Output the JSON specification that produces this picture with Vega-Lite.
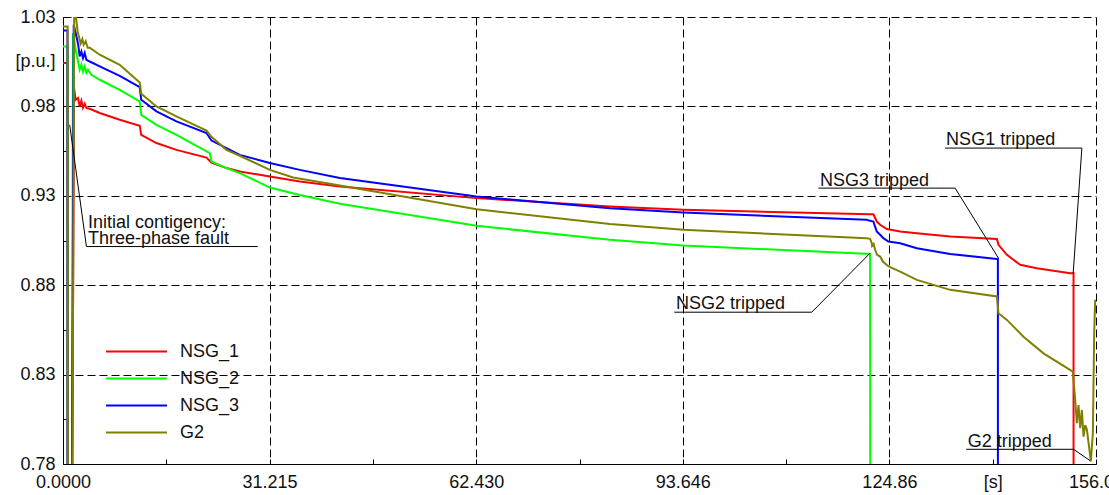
{
  "$schema": "https://vega.github.io/schema/vega-lite/v6.json",
  "width": 1033,
  "height": 447,
  "autosize": {"type": "none"},
  "padding": {"left": 63, "top": 17, "right": 13, "bottom": 31},
  "background": "white",
  "config": {
    "view": {"stroke": null},
    "font": "Liberation Sans",
    "axis": {
      "labelFont": "Liberation Sans",
      "labelFontSize": 18,
      "labelColor": "#111",
      "domainColor": "#000",
      "domainWidth": 1,
      "tickColor": "#000",
      "gridColor": "#000",
      "gridDash": [8, 4],
      "gridWidth": 1,
      "title": null
    }
  },
  "datasets": {
    "curves": [
      {"s":"NSG_1","t":0,"v":1.0043},{"s":"NSG_1","t":0.68,"v":1.0043},{"s":"NSG_1","t":0.72,"v":0.5},{"s":"NSG_1","t":1.08,"v":0.5},{"s":"NSG_1","t":1.66,"v":0.9903},{"s":"NSG_1","t":1.92,"v":0.9837},{"s":"NSG_1","t":2.27,"v":0.9847},{"s":"NSG_1","t":2.52,"v":0.98},{"s":"NSG_1","t":2.78,"v":0.9832},{"s":"NSG_1","t":3.02,"v":0.9792},{"s":"NSG_1","t":3.28,"v":0.9815},{"s":"NSG_1","t":3.53,"v":0.9791},{"s":"NSG_1","t":4.04,"v":0.9787},{"s":"NSG_1","t":5.55,"v":0.9763},{"s":"NSG_1","t":8.57,"v":0.9725},{"s":"NSG_1","t":11.59,"v":0.9692},{"s":"NSG_1","t":11.82,"v":0.9641},{"s":"NSG_1","t":14.12,"v":0.9595},{"s":"NSG_1","t":17.14,"v":0.9557},{"s":"NSG_1","t":21.68,"v":0.9514},{"s":"NSG_1","t":22.43,"v":0.9486},{"s":"NSG_1","t":24.7,"v":0.9455},{"s":"NSG_1","t":26.71,"v":0.9436},{"s":"NSG_1","t":31.25,"v":0.9408},{"s":"NSG_1","t":35.78,"v":0.938},{"s":"NSG_1","t":41.83,"v":0.9352},{"s":"NSG_1","t":62.49,"v":0.9287},{"s":"NSG_1","t":82.64,"v":0.924},{"s":"NSG_1","t":93.72,"v":0.9222},{"s":"NSG_1","t":121.94,"v":0.9197},{"s":"NSG_1","t":122.44,"v":0.9197},{"s":"NSG_1","t":122.96,"v":0.9156},{"s":"NSG_1","t":123.46,"v":0.9138},{"s":"NSG_1","t":124.47,"v":0.9114},{"s":"NSG_1","t":126.48,"v":0.91},{"s":"NSG_1","t":129.0,"v":0.9091},{"s":"NSG_1","t":134.04,"v":0.9072},{"s":"NSG_1","t":141.1,"v":0.9058},{"s":"NSG_1","t":141.34,"v":0.9026},{"s":"NSG_1","t":142.61,"v":0.897},{"s":"NSG_1","t":144.62,"v":0.8914},{"s":"NSG_1","t":147.14,"v":0.8895},{"s":"NSG_1","t":152.18,"v":0.8867},{"s":"NSG_1","t":152.68,"v":0.8867},{"s":"NSG_1","t":152.7,"v":0.5},{"s":"NSG_1","t":156.07,"v":0.5},
      {"s":"NSG_2","t":0,"v":1.0135},{"s":"NSG_2","t":0.68,"v":1.0135},{"s":"NSG_2","t":0.72,"v":0.5},{"s":"NSG_2","t":1.2,"v":0.5},{"s":"NSG_2","t":1.51,"v":1.021},{"s":"NSG_2","t":1.92,"v":1.0117},{"s":"NSG_2","t":2.52,"v":1.0005},{"s":"NSG_2","t":2.78,"v":1.0033},{"s":"NSG_2","t":3.02,"v":0.9994},{"s":"NSG_2","t":3.28,"v":1.0024},{"s":"NSG_2","t":3.53,"v":0.9988},{"s":"NSG_2","t":3.78,"v":1.0005},{"s":"NSG_2","t":4.29,"v":0.9977},{"s":"NSG_2","t":5.55,"v":0.9949},{"s":"NSG_2","t":8.57,"v":0.9893},{"s":"NSG_2","t":11.59,"v":0.9828},{"s":"NSG_2","t":11.82,"v":0.9753},{"s":"NSG_2","t":14.12,"v":0.9697},{"s":"NSG_2","t":17.14,"v":0.9641},{"s":"NSG_2","t":22.18,"v":0.9539},{"s":"NSG_2","t":22.43,"v":0.9492},{"s":"NSG_2","t":24.7,"v":0.9455},{"s":"NSG_2","t":26.71,"v":0.9427},{"s":"NSG_2","t":31.25,"v":0.9346},{"s":"NSG_2","t":35.78,"v":0.9305},{"s":"NSG_2","t":41.83,"v":0.9255},{"s":"NSG_2","t":62.49,"v":0.9132},{"s":"NSG_2","t":82.64,"v":0.9054},{"s":"NSG_2","t":93.72,"v":0.9022},{"s":"NSG_2","t":121.94,"v":0.8975},{"s":"NSG_2","t":122.02,"v":0.5},{"s":"NSG_2","t":156.07,"v":0.5},
      {"s":"NSG_3","t":0,"v":1.0225},{"s":"NSG_3","t":0.68,"v":1.0225},{"s":"NSG_3","t":0.72,"v":0.5},{"s":"NSG_3","t":1.08,"v":0.5},{"s":"NSG_3","t":1.62,"v":1.0257},{"s":"NSG_3","t":2.03,"v":1.0191},{"s":"NSG_3","t":2.3,"v":1.0145},{"s":"NSG_3","t":2.52,"v":1.008},{"s":"NSG_3","t":2.78,"v":1.0107},{"s":"NSG_3","t":3.02,"v":1.007},{"s":"NSG_3","t":3.28,"v":1.0099},{"s":"NSG_3","t":3.53,"v":1.0061},{"s":"NSG_3","t":4.04,"v":1.0051},{"s":"NSG_3","t":5.55,"v":1.0024},{"s":"NSG_3","t":8.57,"v":0.9971},{"s":"NSG_3","t":11.59,"v":0.9908},{"s":"NSG_3","t":11.82,"v":0.9837},{"s":"NSG_3","t":14.12,"v":0.9772},{"s":"NSG_3","t":17.14,"v":0.9716},{"s":"NSG_3","t":21.68,"v":0.9651},{"s":"NSG_3","t":22.43,"v":0.9609},{"s":"NSG_3","t":24.7,"v":0.9567},{"s":"NSG_3","t":26.71,"v":0.9529},{"s":"NSG_3","t":31.25,"v":0.9483},{"s":"NSG_3","t":35.78,"v":0.9445},{"s":"NSG_3","t":41.83,"v":0.9399},{"s":"NSG_3","t":62.49,"v":0.9296},{"s":"NSG_3","t":82.64,"v":0.9231},{"s":"NSG_3","t":93.72,"v":0.9206},{"s":"NSG_3","t":121.44,"v":0.9166},{"s":"NSG_3","t":121.94,"v":0.916},{"s":"NSG_3","t":122.44,"v":0.9156},{"s":"NSG_3","t":122.7,"v":0.9128},{"s":"NSG_3","t":122.95,"v":0.91},{"s":"NSG_3","t":123.46,"v":0.9082},{"s":"NSG_3","t":123.95,"v":0.9063},{"s":"NSG_3","t":124.71,"v":0.9044},{"s":"NSG_3","t":126.48,"v":0.9035},{"s":"NSG_3","t":129.0,"v":0.9007},{"s":"NSG_3","t":134.04,"v":0.8975},{"s":"NSG_3","t":141.1,"v":0.8947},{"s":"NSG_3","t":141.25,"v":0.8947},{"s":"NSG_3","t":141.27,"v":0.5},{"s":"NSG_3","t":156.07,"v":0.5},
      {"s":"G2","t":0,"v":1.0247},{"s":"G2","t":0.7,"v":1.0247},{"s":"G2","t":0.76,"v":0.5},{"s":"G2","t":1.13,"v":0.5},{"s":"G2","t":1.69,"v":1.031},{"s":"G2","t":1.92,"v":1.031},{"s":"G2","t":2.22,"v":1.0218},{"s":"G2","t":2.52,"v":1.0173},{"s":"G2","t":2.68,"v":1.0151},{"s":"G2","t":2.93,"v":1.0177},{"s":"G2","t":3.13,"v":1.0145},{"s":"G2","t":3.43,"v":1.0164},{"s":"G2","t":3.73,"v":1.0128},{"s":"G2","t":4.04,"v":1.0128},{"s":"G2","t":5.55,"v":1.0089},{"s":"G2","t":8.57,"v":1.0033},{"s":"G2","t":11.59,"v":0.9934},{"s":"G2","t":11.82,"v":0.9871},{"s":"G2","t":14.12,"v":0.98},{"s":"G2","t":17.14,"v":0.9744},{"s":"G2","t":21.68,"v":0.9665},{"s":"G2","t":22.43,"v":0.963},{"s":"G2","t":24.7,"v":0.9557},{"s":"G2","t":26.71,"v":0.9524},{"s":"G2","t":31.25,"v":0.9445},{"s":"G2","t":34.77,"v":0.9402},{"s":"G2","t":40.31,"v":0.9367},{"s":"G2","t":62.49,"v":0.9225},{"s":"G2","t":82.64,"v":0.9142},{"s":"G2","t":93.72,"v":0.911},{"s":"G2","t":121.44,"v":0.9063},{"s":"G2","t":121.94,"v":0.9059},{"s":"G2","t":122.2,"v":0.9035},{"s":"G2","t":122.25,"v":0.902},{"s":"G2","t":122.48,"v":0.9031},{"s":"G2","t":122.7,"v":0.8998},{"s":"G2","t":123.0,"v":0.897},{"s":"G2","t":123.46,"v":0.896},{"s":"G2","t":123.91,"v":0.8931},{"s":"G2","t":124.47,"v":0.8913},{"s":"G2","t":124.97,"v":0.8901},{"s":"G2","t":126.48,"v":0.8876},{"s":"G2","t":129.0,"v":0.883},{"s":"G2","t":134.04,"v":0.8774},{"s":"G2","t":141.1,"v":0.8737},{"s":"G2","t":141.34,"v":0.8643},{"s":"G2","t":142.61,"v":0.8606},{"s":"G2","t":145.12,"v":0.8512},{"s":"G2","t":148.14,"v":0.8419},{"s":"G2","t":152.58,"v":0.8317},{"s":"G2","t":152.93,"v":0.8158},{"s":"G2","t":153.19,"v":0.8028},{"s":"G2","t":153.43,"v":0.813},{"s":"G2","t":153.69,"v":0.8},{"s":"G2","t":153.94,"v":0.8102},{"s":"G2","t":154.19,"v":0.7953},{"s":"G2","t":154.45,"v":0.8018},{"s":"G2","t":154.7,"v":0.7991},{"s":"G2","t":155.1,"v":0.7875},{"s":"G2","t":155.3,"v":0.7814},{"s":"G2","t":155.6,"v":0.7972},{"s":"G2","t":155.7,"v":0.8252},{"s":"G2","t":155.8,"v":0.8531},{"s":"G2","t":155.95,"v":0.8718},{"s":"G2","t":156.07,"v":0.865}
    ],
    "notes": [
      {"label":"Initial contigency:","t":3.78,"v":0.91225},
      {"label":"Three-phase fault","t":3.78,"v":0.90285},
      {"label":"NSG2 tripped","t":92.62,"v":0.86658},
      {"label":"NSG3 tripped","t":114.38,"v":0.93559},
      {"label":"NSG1 tripped","t":133.43,"v":0.95853},
      {"label":"G2 tripped","t":136.71,"v":0.78968}
    ],
    "leaders": [
      {"t":3.54,"v":0.90162,"t2":29.43,"v2":0.90162},
      {"t":3.54,"v":0.90162,"t2":1.01,"v2":0.96972},
      {"t":92.36,"v":0.8649,"t2":113.13,"v2":0.8649},
      {"t":113.13,"v":0.8649,"t2":121.94,"v2":0.89792},
      {"t":114.13,"v":0.9343,"t2":134.79,"v2":0.9343},
      {"t":134.79,"v":0.9343,"t2":141.34,"v2":0.89512},
      {"t":133.28,"v":0.95669,"t2":153.94,"v2":0.95669},
      {"t":153.94,"v":0.95669,"t2":152.63,"v2":0.88673},
      {"t":136.46,"v":0.78823,"t2":152.68,"v2":0.78823},
      {"t":152.68,"v":0.78823,"t2":155.2,"v2":0.78185}
    ]
  },
  "layer": [
    {
      "data": {"name": "curves"},
      "mark": {"type": "line", "strokeWidth": 2, "clip": true, "interpolate": "linear"},
      "encoding": {
        "x": {
          "field": "t", "type": "quantitative",
          "scale": {"domain": [0, 156.075], "nice": false, "zero": false},
          "axis": {
            "values": [0, 15.6075, 31.215, 46.8225, 62.43, 78.0375, 93.645, 109.2525, 124.86, 140.4675, 156.075],
            "labelExpr": "abs(datum.value-140.4675)<0.01 ? '[s]' : abs(datum.value)<0.01 ? '0.0000' : abs(datum.value-31.215)<0.01 ? '31.215' : abs(datum.value-62.43)<0.01 ? '62.430' : abs(datum.value-93.645)<0.01 ? '93.646' : abs(datum.value-124.86)<0.01 ? '124.86' : abs(datum.value-156.075)<0.01 ? '156.07' : ''",
            "tickSize": -5,
            "labelPadding": 14,
            "labelFlush": false,
            "labelOverlap": false,
            "gridOpacity": {"condition": {"test": "abs(round(datum.value/31.215)-datum.value/31.215)<0.01 && datum.value>1", "value": 1}, "value": 0}
          }
        },
        "y": {
          "field": "v", "type": "quantitative",
          "scale": {"domain": [0.78, 1.03], "nice": false, "zero": false},
          "axis": {
            "values": [0.78, 0.805, 0.83, 0.855, 0.88, 0.905, 0.93, 0.955, 0.98, 1.005, 1.03],
            "labelExpr": "abs(datum.value-1.005)<0.001 ? '[p.u.]' : abs(round((datum.value-0.78)*20)-(datum.value-0.78)*20)<0.01 ? format(datum.value, '.2f') : ''",
            "tickSize": -5,
            "labelPadding": 13,
            "labelFlush": false,
            "labelOverlap": false,
            "gridOpacity": {"condition": {"test": "abs(round((datum.value-0.78)*20)-(datum.value-0.78)*20)<0.01 && datum.value>0.79", "value": 1}, "value": 0}
          }
        },
        "color": {
          "field": "s", "type": "nominal",
          "scale": {"domain": ["NSG_1", "NSG_2", "NSG_3", "G2"], "range": ["#ff0000", "#00ff00", "#0000ff", "#808000"]},
          "legend": {
            "title": null,
            "orient": "none",
            "legendX": 62,
            "legendY": 323,
            "symbolType": "M-3,0H3",
            "symbolStrokeWidth": 2,
            "symbolSize": 413,
            "labelFontSize": 18,
            "labelFont": "Liberation Sans",
            "labelColor": "#111",
            "labelOffset": 32,
            "rowPadding": 6,
            "padding": 0
          }
        }
      }
    },
    {
      "data": {"name": "leaders"},
      "mark": {"type": "rule", "color": "#000", "strokeWidth": 1, "clip": true},
      "encoding": {
        "x": {"field": "t", "type": "quantitative"},
        "x2": {"field": "t2"},
        "y": {"field": "v", "type": "quantitative"},
        "y2": {"field": "v2"}
      }
    },
    {
      "data": {"name": "notes"},
      "mark": {"type": "text", "align": "left", "baseline": "alphabetic", "fontSize": 18, "font": "Liberation Sans", "color": "#111"},
      "encoding": {
        "x": {"field": "t", "type": "quantitative"},
        "y": {"field": "v", "type": "quantitative"},
        "text": {"field": "label"}
      }
    }
  ]
}
